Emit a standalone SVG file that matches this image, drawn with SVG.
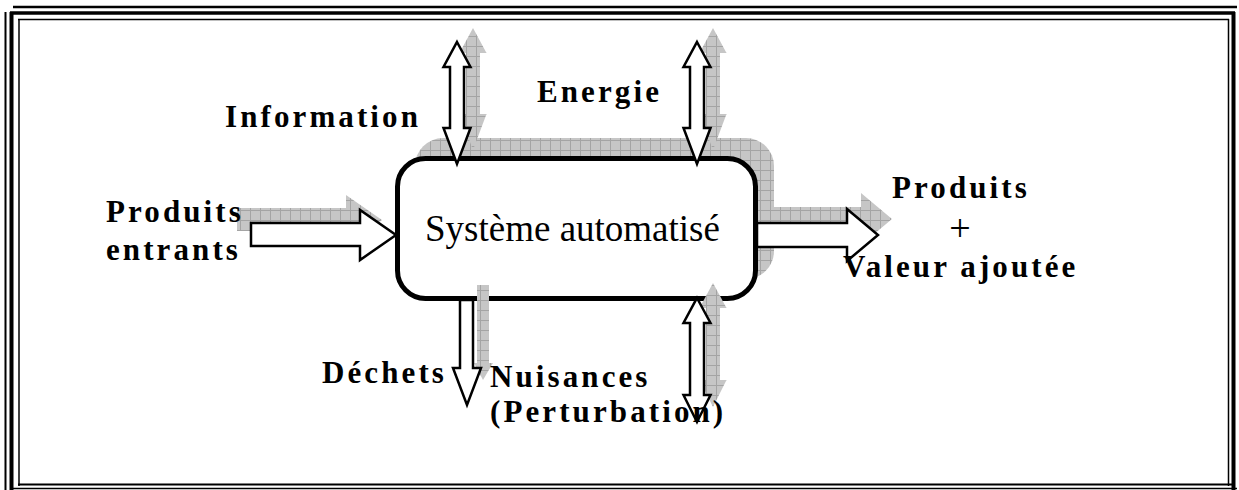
<svg xmlns="http://www.w3.org/2000/svg" width="1239" height="490" viewBox="0 0 1239 490">
<defs>
<pattern id="hatch" width="10" height="10" patternUnits="userSpaceOnUse">
<rect width="10" height="10" fill="#c6c6c6"/>
<path d="M0 0.5H10M0.5 0V10" stroke="#a4a4a4" stroke-width="1"/>
</pattern>
<style>
.frame{stroke:#000;fill:none}
.shadow{fill:url(#hatch);stroke:none}
.arrow{fill:#fff;stroke:#000;stroke-width:2.5;stroke-linejoin:miter}
.lbl{font-family:"Liberation Serif","Times New Roman",serif;font-weight:bold;font-size:31px;letter-spacing:3.1px;fill:#000}
.main{font-family:"Liberation Serif","Times New Roman",serif;font-size:37px;fill:#000}
</style>
</defs>
<rect width="1239" height="490" fill="#fff"/>
<g id="frame">
<line class="frame" x1="13" y1="7" x2="1237" y2="7" stroke-width="2.5"/>
<line class="frame" x1="10" y1="13" x2="1235" y2="13" stroke-width="3.5"/>
<line class="frame" x1="18" y1="19.5" x2="1229" y2="19.5" stroke-width="1.5"/>
<line class="frame" x1="5.5" y1="12" x2="5.5" y2="490" stroke-width="2"/>
<line class="frame" x1="11.5" y1="12" x2="11.5" y2="490" stroke-width="4"/>
<line class="frame" x1="19" y1="19" x2="19" y2="486" stroke-width="1.5"/>
<line class="frame" x1="1228.5" y1="19" x2="1228.5" y2="486" stroke-width="1.5"/>
<line class="frame" x1="1233.5" y1="12" x2="1233.5" y2="490" stroke-width="4"/>
<line class="frame" x1="18" y1="484.5" x2="1233" y2="484.5" stroke-width="2"/>
<line class="frame" x1="12" y1="488.5" x2="1237" y2="488.5" stroke-width="1.5" stroke="#555"/>
</g>
<g id="shadows">
<rect class="shadow" x="415" y="138" width="359" height="141" rx="28"/>
<polygon class="shadow" points="237,208 346,208 346,195 382,220 346,245 346,231 237,231"/>
<polygon class="shadow" points="760,207 861,207 861,193 892,219 861,245 861,231 760,231"/>
<polygon class="shadow" transform="translate(16,-14)" points="457,42 470.5,67 464,67 464,128 470.5,128 457,164 443.5,128 450,128 450,67 443.5,67"/>
<polygon class="shadow" transform="translate(16,-14)" points="697,42 710.5,67 704,67 704,128 710.5,128 697,164 683.5,128 690,128 690,67 683.5,67"/>
</g>
<g id="box">
<rect x="397.5" y="158.5" width="358" height="140" rx="28" fill="#fff" stroke="#000" stroke-width="5"/>
<text class="main" x="425" y="241">Système automatisé</text>
</g>
<g id="connectors">
<polygon class="shadow" points="477,285 489,285 489,363 493,363 483,380 474,363 477,363"/>
<polygon class="shadow" transform="translate(16,-15)" points="697,298 710.5,323 704,323 704,395 710.5,395 697,422 683.5,395 690,395 690,323 683.5,323"/>
<polygon class="arrow" points="251,223 360,223 360,210 396,235 360,260 360,246 251,246"/>
<polygon class="arrow" points="757,223 847,223 847,209 878,235 847,261 847,247 757,247"/>
<polygon class="arrow" points="457,42 470.5,67 464,67 464,128 470.5,128 457,164 443.5,128 450,128 450,67 443.5,67"/>
<polygon class="arrow" points="697,42 710.5,67 704,67 704,128 710.5,128 697,164 683.5,128 690,128 690,67 683.5,67"/>
<polygon class="arrow" points="460,300 473,300 473,368 481,368 467,405 453,368 460,368"/>
<polygon class="arrow" points="697,298 710.5,323 704,323 704,395 710.5,395 697,422 683.5,395 690,395 690,323 683.5,323"/>
</g>
<g id="labels">
<text class="lbl" x="225" y="127">Information</text>
<text class="lbl" x="537" y="102">Energie</text>
<text class="lbl" x="106" y="222">Produits</text>
<text class="lbl" x="106" y="260">entrants</text>
<text class="lbl" x="892" y="198">Produits</text>
<text x="960" y="241" text-anchor="middle" font-family="Liberation Serif,serif" font-size="38">+</text>
<text class="lbl" x="843" y="277">Valeur ajoutée</text>
<text class="lbl" x="322" y="383">Déchets</text>
<text class="lbl" x="490" y="387">Nuisances</text>
<text class="lbl" x="490" y="422">(Perturbation)</text>
</g>
</svg>
